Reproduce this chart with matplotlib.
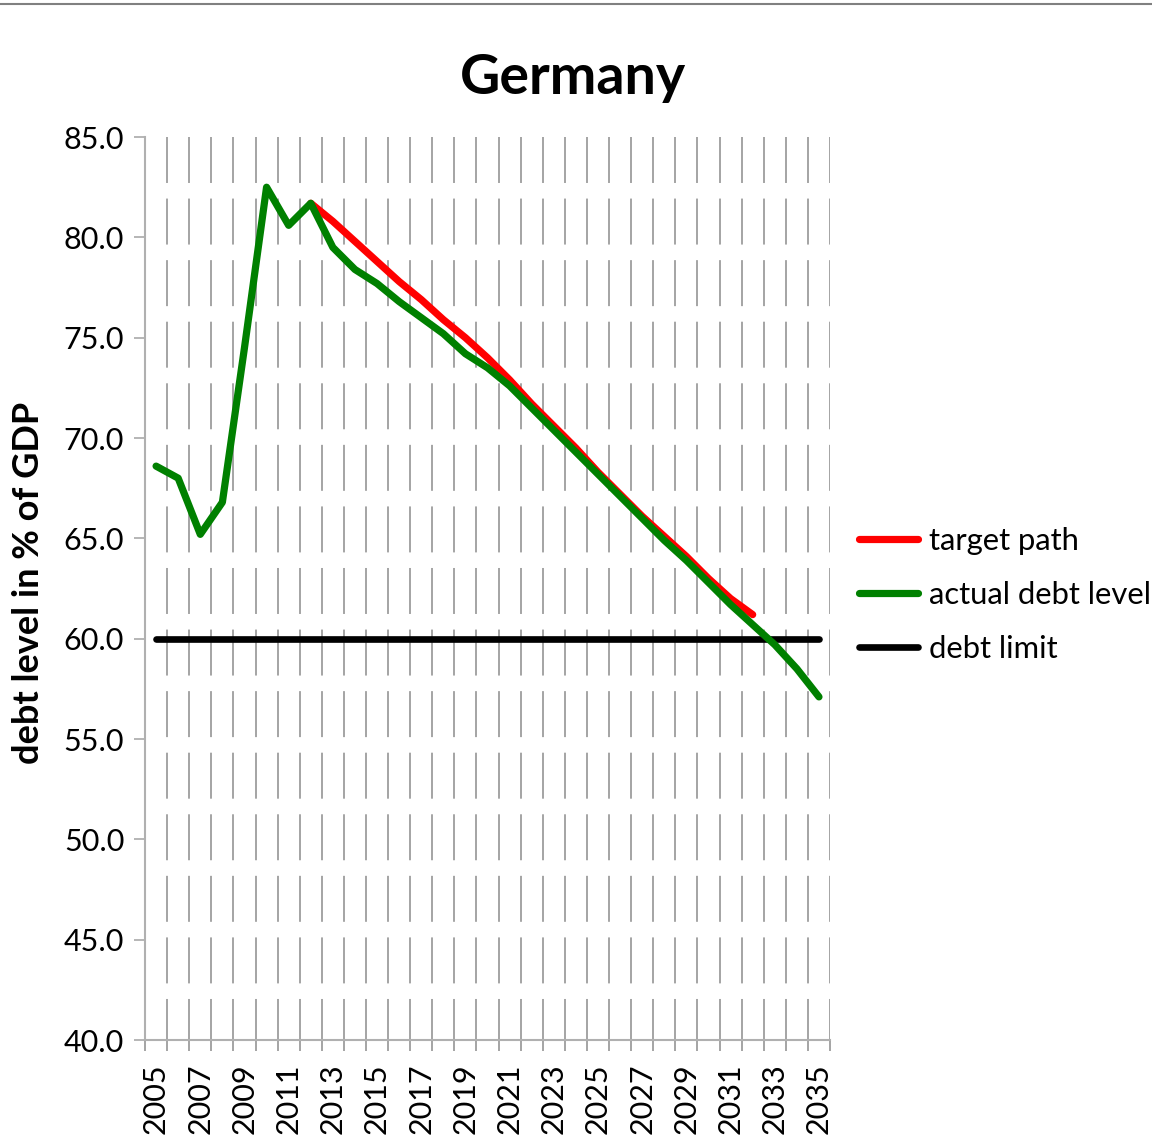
import numpy as np
import matplotlib.pyplot as plt
from matplotlib.lines import Line2D

plt.rcParams['font.family'] = ['Lato', 'DejaVu Sans']

years = list(range(2005, 2036))

# actual debt level, % of GDP
actual = [68.6, 68.0, 65.2, 66.8, 74.5, 82.5, 80.6, 81.7, 79.5, 78.4,
          77.7, 76.8, 76.0, 75.2, 74.2, 73.5, 72.6, 71.5, 70.4, 69.3,
          68.2, 67.1, 66.0, 64.9, 63.9, 62.8, 61.7, 60.7, 59.7, 58.5, 57.1]

# target path from 2012 to 2032
target_years = list(range(2012, 2033))
target = [81.7, 80.8, 79.8, 78.8, 77.8, 76.9, 75.9, 75.0, 74.0, 72.9,
          71.7, 70.6, 69.5, 68.3, 67.2, 66.1, 65.1, 64.1, 63.0, 62.0, 61.2]

debt_limit = [60.0] * len(years)

x_all = np.arange(len(years))
x_target = np.array([years.index(y) for y in target_years])

fig = plt.figure(figsize=(11.52, 11.43), dpi=100)
ax = fig.add_axes([0.1259, 0.0901, 0.5946, 0.7900])

grid_color = '#8c8c8c'
axis_color = '#b0b0b0'

# broken vertical lines between categories, dashes start at the top
bounds = np.arange(len(years)) + 0.5
ax.vlines(bounds, 85, 40, colors=grid_color, linewidth=1.1,
          linestyles=[(0, (30.1, 10.2))], zorder=1)

ax.plot(x_target, target, color='#ff0000', lw=5.2, solid_capstyle='round',
        solid_joinstyle='round', label='target path', zorder=3)
ax.plot(x_all, actual, color='#008000', lw=5.2, solid_capstyle='round',
        solid_joinstyle='round', label='actual debt level', zorder=4)
ax.plot(x_all, debt_limit, color='black', lw=4.8, solid_capstyle='round',
        label='debt limit', zorder=2)

ax.set_xlim(-0.5, len(years) - 0.5)
ax.set_ylim(40, 85)

ax.set_yticks(np.arange(40, 86, 5))
ax.set_yticklabels([f'{v:.1f}' for v in np.arange(40, 86, 5)], fontsize=22)
ax.tick_params(axis='y', direction='out', length=8, width=1.3,
               color=axis_color, pad=7)

ax.set_xticks(x_all[::2])
ax.set_xticklabels([str(y) for y in years[::2]], rotation=90, fontsize=22)
ax.set_xticks(np.arange(len(years) + 1) - 0.5, minor=True)
ax.tick_params(axis='x', which='major', length=0, pad=17)
ax.tick_params(axis='x', which='minor', direction='out', length=8,
               width=1.1, color=grid_color)

for side in ['top', 'right']:
    ax.spines[side].set_visible(False)
for side in ['left', 'bottom']:
    ax.spines[side].set_color(axis_color)
    ax.spines[side].set_linewidth(1.5)

ax.set_ylabel('debt level in % of GDP', fontsize=26, fontweight='bold')
ax.yaxis.set_label_coords(-0.146, 0.506)
fig.text(0.497, 0.932, 'Germany', ha='center', va='center', fontsize=40,
         fontweight='bold')

ax.legend(loc='center left', bbox_to_anchor=(1.043, 0.493), frameon=False,
          fontsize=22.3, handlelength=1.9, handletextpad=0.35,
          labelspacing=0.85, borderpad=0, borderaxespad=0)

fig.add_artist(Line2D([0, 1], [0.9965, 0.9965], transform=fig.transFigure,
                      color='#808080', lw=1.5))

fig.savefig('out.png', dpi=100, facecolor='white')
